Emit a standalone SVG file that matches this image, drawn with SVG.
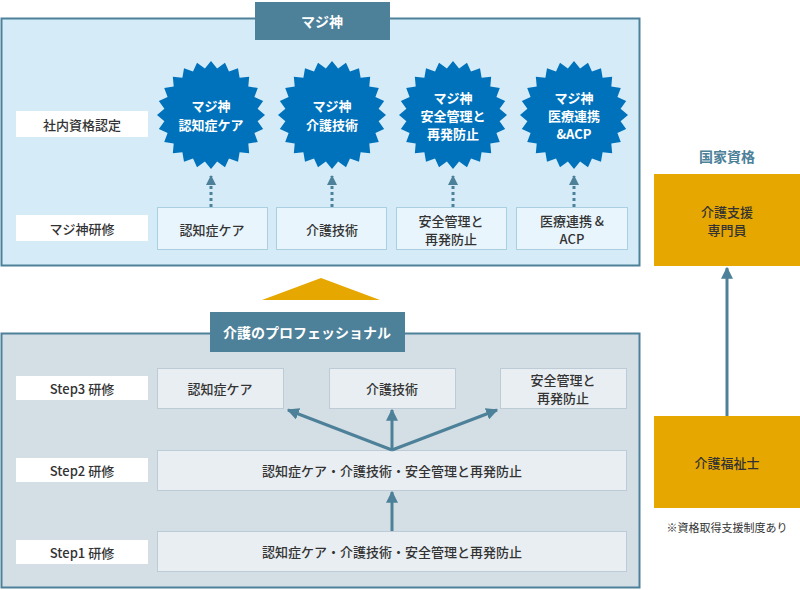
<svg xmlns="http://www.w3.org/2000/svg" width="800" height="590" viewBox="0 0 800 590">
<style>
text{font-family:"Noto Sans CJK JP","Noto Sans",sans-serif;text-anchor:middle;dominant-baseline:central}
.lbl{fill:#fff}
.tb{fill:#e9f5fc;stroke:#a9cfe0}
.gb{fill:#e9eef2;stroke:#bccbd5}
.t{font-size:13px;fill:#333;font-weight:500}
.tw{font-size:13px;fill:#fff;font-weight:bold}
.bt{font-size:14px;fill:#fff;font-weight:bold}
.or{fill:#e6a700}
.ar{stroke:#4d8099;stroke-width:3;fill:none}
</style>
<defs>
<path id="star" fill="#0072bb" d="M54,0 46.6,6.13 52.16,13.98 43.42,17.99 46.77,27 37.29,28.61 38.18,38.18 28.61,37.29 27,46.77 17.99,43.42 13.98,52.16 6.13,46.6 0,54 -6.13,46.6 -13.98,52.16 -17.99,43.42 -27,46.77 -28.61,37.29 -38.18,38.18 -37.29,28.61 -46.77,27 -43.42,17.99 -52.16,13.98 -46.6,6.13 -54,0 -46.6,-6.13 -52.16,-13.98 -43.42,-17.99 -46.77,-27 -37.29,-28.61 -38.18,-38.18 -28.61,-37.29 -27,-46.77 -17.99,-43.42 -13.98,-52.16 -6.13,-46.6 0,-54 6.13,-46.6 13.98,-52.16 17.99,-43.42 27,-46.77 28.61,-37.29 38.18,-38.18 37.29,-28.61 46.77,-27 43.42,-17.99 52.16,-13.98 46.6,-6.13Z"/>
<marker id="ah" viewBox="0 0 10 10" refX="9" refY="5" markerWidth="4" markerHeight="4" orient="auto" markerUnits="strokeWidth"><path d="M0,0 10,5 0,10z" fill="#4d8099"/></marker>
<marker id="ah2" viewBox="0 0 10 10" refX="9" refY="5" markerWidth="3.5" markerHeight="3.5" orient="auto" markerUnits="strokeWidth"><path d="M0,0 10,5 0,10z" fill="#4d8099"/></marker>
</defs>
<g id="top-panel">
<rect x="1.5" y="18.5" width="638" height="247" fill="#d5ecf8" stroke="#4d8099" stroke-width="2"/>
<rect x="255" y="2" width="135" height="38" fill="#4d8099"/>
<text x="322" y="21" class="bt">マジ神</text>
<rect class="lbl" x="16" y="111" width="132" height="26"/><text class="t" x="82" y="124">社内資格認定</text>
<rect class="lbl" x="16" y="215" width="132" height="26"/><text class="t" x="82" y="228">マジ神研修</text>
</g>
<g id="stars">
<use href="#star" x="211" y="115"/><text class="tw" x="211" y="105">マジ神</text><text class="tw" x="211" y="124" font-size="14">認知症ケア</text>
<use href="#star" x="332" y="115"/><text class="tw" x="332" y="105">マジ神</text><text class="tw" x="332" y="124" font-size="14">介護技術</text>
<use href="#star" x="453" y="115"/><text class="tw" x="453" y="97">マジ神</text><text class="tw" x="453" y="115">安全管理と</text><text class="tw" x="453" y="133">再発防止</text>
<use href="#star" x="574" y="115"/><text class="tw" x="574" y="97">マジ神</text><text class="tw" x="574" y="115">医療連携</text><text class="tw" x="574" y="133">&amp;ACP</text>
</g>
<g id="top-training">
<rect class="tb" x="157.5" y="207.5" width="110" height="42"/><text class="t" x="212" y="229" font-size="14">認知症ケア</text>
<rect class="tb" x="276.5" y="207.5" width="110" height="42"/><text class="t" x="332" y="229" font-size="14">介護技術</text>
<rect class="tb" x="396.5" y="207.5" width="110" height="42"/><text class="t" x="451" y="220" font-size="12">安全管理と</text><text class="t" x="451" y="238" font-size="12">再発防止</text>
<rect class="tb" x="516.5" y="207.5" width="111" height="42"/><text class="t" x="572" y="220" font-size="12">医療連携 &amp;</text><text class="t" x="572" y="238" font-size="12">ACP</text>
</g>
<g id="right">
<text x="727" y="156" font-size="14" font-weight="bold" fill="#4d8099">国家資格</text>
<rect class="or" x="654" y="174" width="146" height="92"/>
<text class="t" x="727" y="211" font-weight="bold">介護支援</text><text class="t" x="727" y="229" font-weight="bold">専門員</text>
<rect class="or" x="654" y="416" width="146" height="92"/>
<text class="t" x="727" y="462" font-weight="bold">介護福祉士</text>
<text x="727" y="527" font-size="11" fill="#333">※資格取得支援制度あり</text>
</g>
<polygon id="up-triangle" class="or" points="262,300 321,278 380,300"/>
<g id="bottom-panel">
<rect x="1.5" y="333.5" width="638" height="254" fill="#d4dee5" stroke="#4d8099" stroke-width="2"/>
<rect x="210" y="312" width="195" height="40" fill="#4d8099"/>
<text x="307" y="332" class="bt">介護のプロフェッショナル</text>
<rect class="lbl" x="16" y="376" width="132" height="24"/><text class="t" x="82" y="388">Step3 研修</text>
<rect class="lbl" x="16" y="458" width="132" height="24"/><text class="t" x="82" y="470">Step2 研修</text>
<rect class="lbl" x="16" y="540" width="132" height="24"/><text class="t" x="82" y="552">Step1 研修</text>
<rect class="gb" x="157.5" y="368.5" width="126" height="40"/><text class="t" x="220" y="388">認知症ケア</text>
<rect class="gb" x="329.5" y="368.5" width="126" height="40"/><text class="t" x="392" y="388">介護技術</text>
<rect class="gb" x="500.5" y="368.5" width="126" height="40"/><text class="t" x="563" y="379" font-size="12">安全管理と</text><text class="t" x="563" y="397" font-size="12">再発防止</text>
<rect class="gb" x="157.5" y="450.5" width="469" height="40"/><text class="t" x="392" y="470">認知症ケア・介護技術・安全管理と再発防止</text>
<rect class="gb" x="157.5" y="531.5" width="469" height="40"/><text class="t" x="392" y="551">認知症ケア・介護技術・安全管理と再発防止</text>
</g>
<g id="connectors">
<line x1="211" y1="207" x2="211" y2="176" stroke="#4d8099" stroke-width="3" stroke-dasharray="3,3" marker-end="url(#ah2)"/>
<line x1="332" y1="207" x2="332" y2="176" stroke="#4d8099" stroke-width="3" stroke-dasharray="3,3" marker-end="url(#ah2)"/>
<line x1="453" y1="207" x2="453" y2="176" stroke="#4d8099" stroke-width="3" stroke-dasharray="3,3" marker-end="url(#ah2)"/>
<line x1="574" y1="207" x2="574" y2="176" stroke="#4d8099" stroke-width="3" stroke-dasharray="3,3" marker-end="url(#ah2)"/>
<line class="ar" x1="727" y1="416" x2="727" y2="268" marker-end="url(#ah)"/>
<line class="ar" x1="392" y1="531" x2="392" y2="492" marker-end="url(#ah)"/>
<line class="ar" x1="392" y1="450" x2="392" y2="410" marker-end="url(#ah)"/>
<line class="ar" x1="392" y1="450" x2="288" y2="410" marker-end="url(#ah)"/>
<line class="ar" x1="392" y1="450" x2="497" y2="410" marker-end="url(#ah)"/>
</g>
</svg>
